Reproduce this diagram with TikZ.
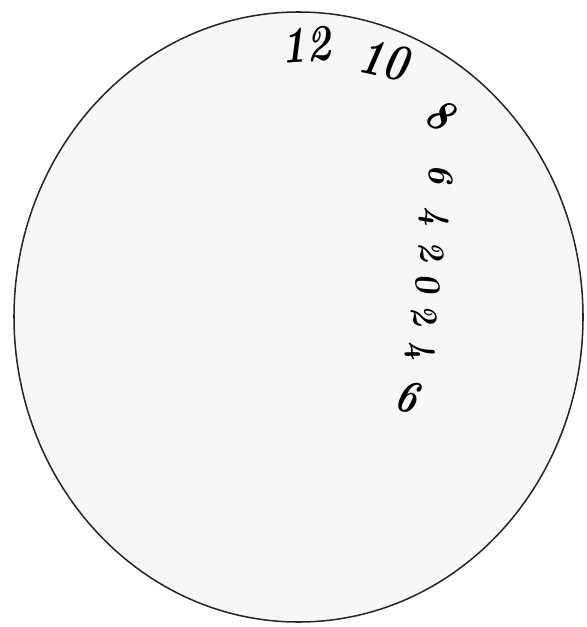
\documentclass[tikz,border=0pt]{standalone}
\usepackage{tikz}
\usetikzlibrary{calc,positioning}
\colorlet{dialfill}{black!3}
\colorlet{dialline}{black!85}
\tikzset{
  biglabel/.style={inner sep=0pt,font=\fontsize{44}{44}\selectfont\bfseries\itshape},
  trailbig/.style={inner sep=0pt,font=\fontsize{40}{40}\selectfont\bfseries\itshape},
  trailsmall/.style={inner sep=0pt,font=\fontsize{30}{30}\selectfont\bfseries\itshape}
}

\begin{document}
\begin{tikzpicture}[x=0.03cm,y=-0.03cm]
\useasboundingbox (0,0) rectangle (586,627);
% dial
\fill[dialfill] (298.5,317) ellipse (284.5 and 305);
\draw[dialline,line width=1.3pt] (298.5,317) ellipse (284.5 and 305);
% numbers along the rim
\node[biglabel,rotate=4,xscale=0.8] (l12) at (306,45) {12};
\node[biglabel,rotate=-12,xscale=0.8] (l10) at (384,60) {10};
\node[trailbig,rotate=-35,xscale=0.8] (l8) at (440,114) {8};
% trail running down
\node[trailsmall,rotate=-85] (t6a) at (441,174) {6};
\node[trailsmall,rotate=-85] (t4a) at (434,216) {4};
\node[trailsmall,rotate=-80] (t2a) at (431,251) {2};
\node[trailsmall,rotate=-80] (t0) at (427,283) {0};
\node[trailsmall,rotate=-75] (t2b) at (424,315) {2};
\node[trailsmall,rotate=-75] (t4b) at (419,349) {4};
\node[trailbig,rotate=-15,xscale=0.8] (t6b) at (407,397) {6};
\end{tikzpicture}
\end{document}
